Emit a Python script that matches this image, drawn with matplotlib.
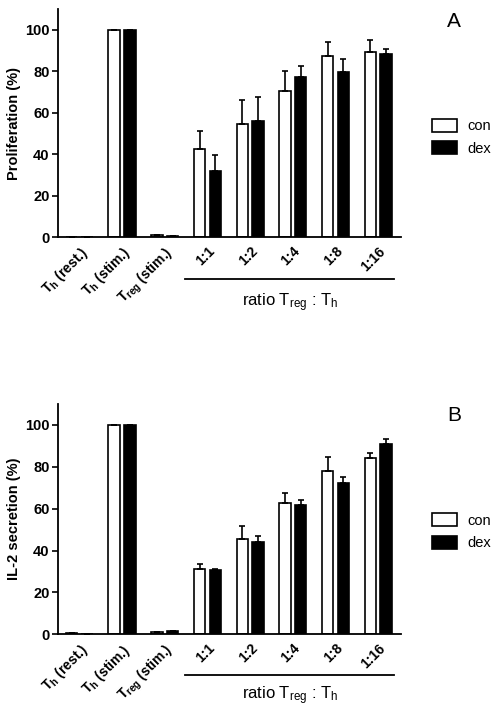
import numpy as np
import matplotlib
matplotlib.use("Agg")
import matplotlib.pyplot as plt
from matplotlib.patches import Patch
from matplotlib.transforms import blended_transform_factory

plt.rcParams["font.family"] = ["Liberation Sans", "DejaVu Sans"]
plt.rcParams["mathtext.default"] = "regular"

# Categories along the x axis
categories = ["T$_{h}$ (rest.)", "T$_{h}$ (stim.)", "T$_{reg}$ (stim.)",
              "1:1", "1:2", "1:4", "1:8", "1:16"]

# Panel A: proliferation (%)
prolif_con = [0, 100, 1.0, 42.6, 54.7, 70.7, 87.2, 89.6]
prolif_dex = [0, 100, 0.7, 31.9, 56.2, 77.1, 79.8, 88.3]
prolif_con_err = [0, 0, 0, 8.8, 11.6, 9.6, 6.9, 5.7]
prolif_dex_err = [0, 0, 0, 7.9, 11.3, 5.3, 6.1, 2.7]

# Panel B: IL-2 secretion (%)
il2_con = [0.5, 100, 1.0, 31.0, 45.7, 62.7, 77.8, 84.3]
il2_dex = [0, 100, 1.5, 30.5, 44.1, 61.6, 72.2, 91.0]
il2_con_err = [0, 0, 0, 2.6, 6.2, 4.9, 6.8, 2.2]
il2_dex_err = [0, 0, 0.3, 0.5, 3.0, 2.7, 2.7, 2.5]


def draw_panel(ax, con, dex, con_err, dex_err, ylabel, letter, line_y, text_y, leg_y):
    x = np.arange(len(categories))
    width = 0.27
    off = 0.184
    err_kw = dict(ecolor="black", elinewidth=1.2, capsize=2.2, capthick=1.2)
    zeros = np.zeros(len(x))
    ax.bar(x - off, con, width, color="white", edgecolor="black", linewidth=1.2,
           yerr=[zeros, con_err], error_kw=err_kw, zorder=2)
    ax.bar(x + off, dex, width, color="black", edgecolor="black", linewidth=1.2,
           yerr=[zeros, dex_err], error_kw=err_kw, zorder=2)

    ax.set_xlim(-0.5, 7.53)
    ax.set_ylim(0, 110)
    ax.set_yticks([0, 20, 40, 60, 80, 100])
    ax.tick_params(axis="y", labelsize=10.5, width=1.2, length=4, pad=2)
    for lab in ax.get_yticklabels():
        lab.set_fontweight("bold")
    ax.set_xticks(x)
    ax.set_xticklabels(categories, rotation=45, ha="right", rotation_mode="anchor",
                       fontsize=10, fontweight="bold")
    ax.tick_params(axis="x", length=0, pad=5)
    ax.set_ylabel(ylabel, fontsize=10.5, fontweight="bold", labelpad=3)
    for side in ["top", "right"]:
        ax.spines[side].set_visible(False)
    for side in ["left", "bottom"]:
        ax.spines[side].set_linewidth(1.3)

    # ratio bracket below the ratio groups
    trans = blended_transform_factory(ax.transData, ax.transAxes)
    ax.plot([2.47, 7.37], [line_y, line_y], color="black", lw=1.3,
            transform=trans, clip_on=False)
    ax.text(4.93, text_y, "ratio T$_{reg}$ : T$_{h}$", transform=trans,
            ha="center", va="center", fontsize=12)

    ax.text(1.155, 0.99, letter, transform=ax.transAxes, fontsize=15,
            ha="center", va="top")

    handles = [Patch(facecolor="white", edgecolor="black", linewidth=1.2, label="con"),
               Patch(facecolor="black", edgecolor="black", linewidth=1.2, label="dex")]
    ax.legend(handles=handles, loc="upper left", bbox_to_anchor=(1.09, leg_y),
              frameon=False, fontsize=10.5, handlelength=1.75, handleheight=1.0,
              labelspacing=0.55, handletextpad=0.7, borderpad=0, borderaxespad=0)


fig = plt.figure(figsize=(4.98, 7.14), dpi=100)
ax_a = fig.add_axes([0.1165, 0.668, 0.6885, 0.319])
ax_b = fig.add_axes([0.1165, 0.1116, 0.6885, 0.3226])

draw_panel(ax_a, prolif_con, prolif_dex, prolif_con_err, prolif_dex_err,
           "Proliferation (%)", "A", -0.186, -0.289, 0.52)
draw_panel(ax_b, il2_con, il2_dex, il2_con_err, il2_dex_err,
           "IL-2 secretion (%)", "B", -0.177, -0.268, 0.525)

fig.savefig("out.png", dpi=100)
